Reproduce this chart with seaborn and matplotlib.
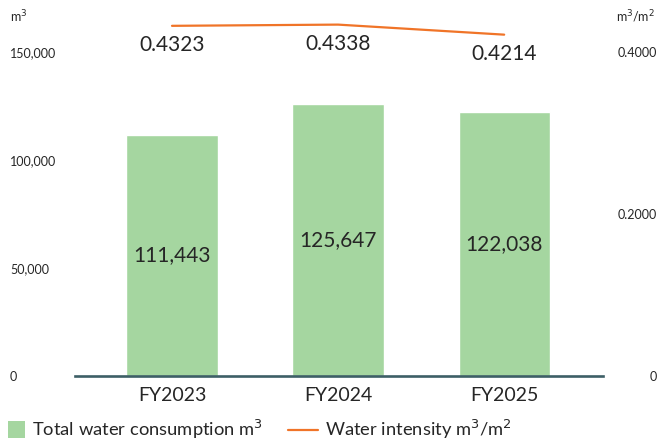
import numpy as np
import pandas as pd
import matplotlib.pyplot as plt
import seaborn as sns
from matplotlib.lines import Line2D
from matplotlib.patches import Patch, Rectangle
from matplotlib.legend_handler import HandlerPatch

years = ["FY2023", "FY2024", "FY2025"]
consumption = [111443, 125647, 122038]
intensity = [0.4323, 0.4338, 0.4214]
left_ticks = [0, 50000, 100000, 150000]
left_labels = ["0", "50,000", "100,000", "150,000"]
right_ticks = [0, 0.2, 0.4]
right_labels = ["0", "0.2000", "0.4000"]

green = "#a5d6a0"
orange = "#f07428"
teal = "#3d5f66"
txt = "#262626"

sns.set_style("white")
plt.rcParams["font.family"] = ["Lato", "DejaVu Sans"]

df = pd.DataFrame({"year": years, "consumption": consumption})

fig = plt.figure(figsize=(6.61, 4.43), dpi=100)
ax = fig.add_axes([0.1135, 0.1512, 0.799, 0.815])

sns.barplot(data=df, x="year", y="consumption", color=green, width=0.55,
            saturation=1, ax=ax)
ax.set_xlim(-0.584, 2.596)
ax.set_ylim(0, 167000)
ax.set_xlabel("")
ax.set_ylabel("")

for i, v in enumerate(consumption):
    ax.text(i, v / 2, f"{v:,}", ha="center", va="center", fontsize=15, color=txt)

for s in ["top", "left", "right"]:
    ax.spines[s].set_visible(False)
ax.spines["bottom"].set_color(teal)
ax.spines["bottom"].set_linewidth(1.9)

ax.set_yticks(left_ticks)
ax.set_yticklabels(left_labels, fontsize=9, color=txt, ha="left")
ax.tick_params(axis="y", length=0, pad=46.8)
ax.tick_params(axis="x", length=0, pad=8, labelsize=14, labelcolor=txt)

ax2 = ax.twinx()
sns.lineplot(x=np.arange(len(years)), y=intensity, color=orange, linewidth=1.6,
             ax=ax2)
ax2.set_ylim(0, 0.4457)
for s in ["top", "left", "right", "bottom"]:
    ax2.spines[s].set_visible(False)
ax2.set_yticks(right_ticks)
ax2.set_yticklabels(right_labels, fontsize=9, color=txt, ha="right")
ax2.tick_params(axis="y", length=0, pad=38.9)

for i, v in enumerate(intensity):
    ax2.annotate(f"{v:.4f}", (i, v), xytext=(0, -14), textcoords="offset points",
                 ha="center", va="center", fontsize=15, color=txt)

fig.text(10 / 661, 1 - 17 / 443, "m$^3$", fontsize=9, color=txt, va="center")
fig.text(655 / 661, 1 - 17 / 443, "m$^3$/m$^2$", fontsize=9, color=txt,
         va="center", ha="right")


# square legend swatch, pushed to the right end of the handle box
def square(legend, orig_handle, xdescent, ydescent, width, height, fontsize):
    s = height * 1.35
    return Rectangle((width - s - xdescent, -ydescent - (s - height) / 2), s, s)


handles = [Patch(facecolor=green, edgecolor="none"),
           Line2D([0], [0], color=orange, linewidth=1.6)]
labels = ["Total water consumption m$^3$", "Water intensity m$^3$/m$^2$"]
fig.legend(handles, labels, loc="lower left", bbox_to_anchor=(-0.012, -0.004),
           ncol=2, frameon=False, fontsize=13.2, handlelength=1.6,
           handletextpad=0.4, columnspacing=1.35, labelcolor=txt,
           borderaxespad=0, borderpad=0.2,
           handler_map={Patch: HandlerPatch(patch_func=square)})

fig.savefig("out.png", dpi=100)
